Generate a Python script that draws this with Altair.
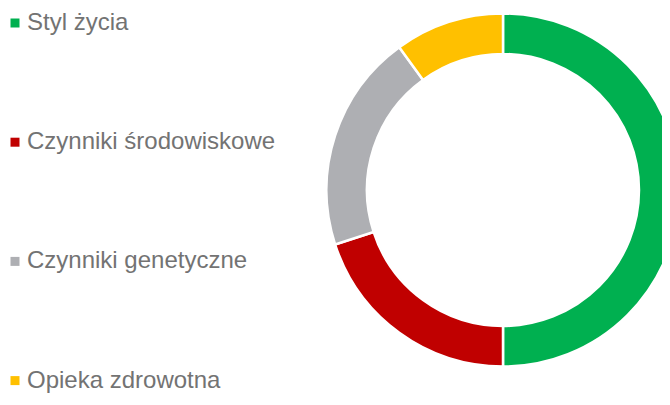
import altair as alt
import pandas as pd

categories = ["Styl życia", "Czynniki środowiskowe", "Czynniki genetyczne", "Opieka zdrowotna"]
values = [50, 20, 20, 10]
colors = ["#00B050", "#C00000", "#AEAFB3", "#FFC000"]
order = [0, 1, 2, 3]

df = pd.DataFrame({"category": categories, "value": values, "order": order})

chart = (
    alt.Chart(df)
    .mark_arc(radius=176.5, radius2=136, stroke="white", strokeWidth=2.5)
    .encode(
        theta=alt.Theta("value:Q", stack=True),
        order=alt.Order("order:Q"),
        x=alt.value(495),
        y=alt.value(182),
        color=alt.Color(
            "category:N",
            sort=categories,
            scale=alt.Scale(domain=categories, range=colors),
            legend=alt.Legend(
                title=None,
                orient="none",
                legendX=-5,
                legendY=3,
                padding=0,
                symbolType="square",
                symbolSize=81,
                symbolStrokeWidth=0,
                labelFontSize=24,
                labelFont="Liberation Sans",
                labelColor="#737373",
                labelOffset=0,
                rowPadding=95.2,
                labelLimit=400,
            ),
        ),
    )
    .properties(width=654, height=385, padding=0, autosize=alt.AutoSizeParams(type="none"))
    .configure_view(stroke=None)
)

chart.save("out.html", embed_options={"renderer": "svg", "actions": False})
